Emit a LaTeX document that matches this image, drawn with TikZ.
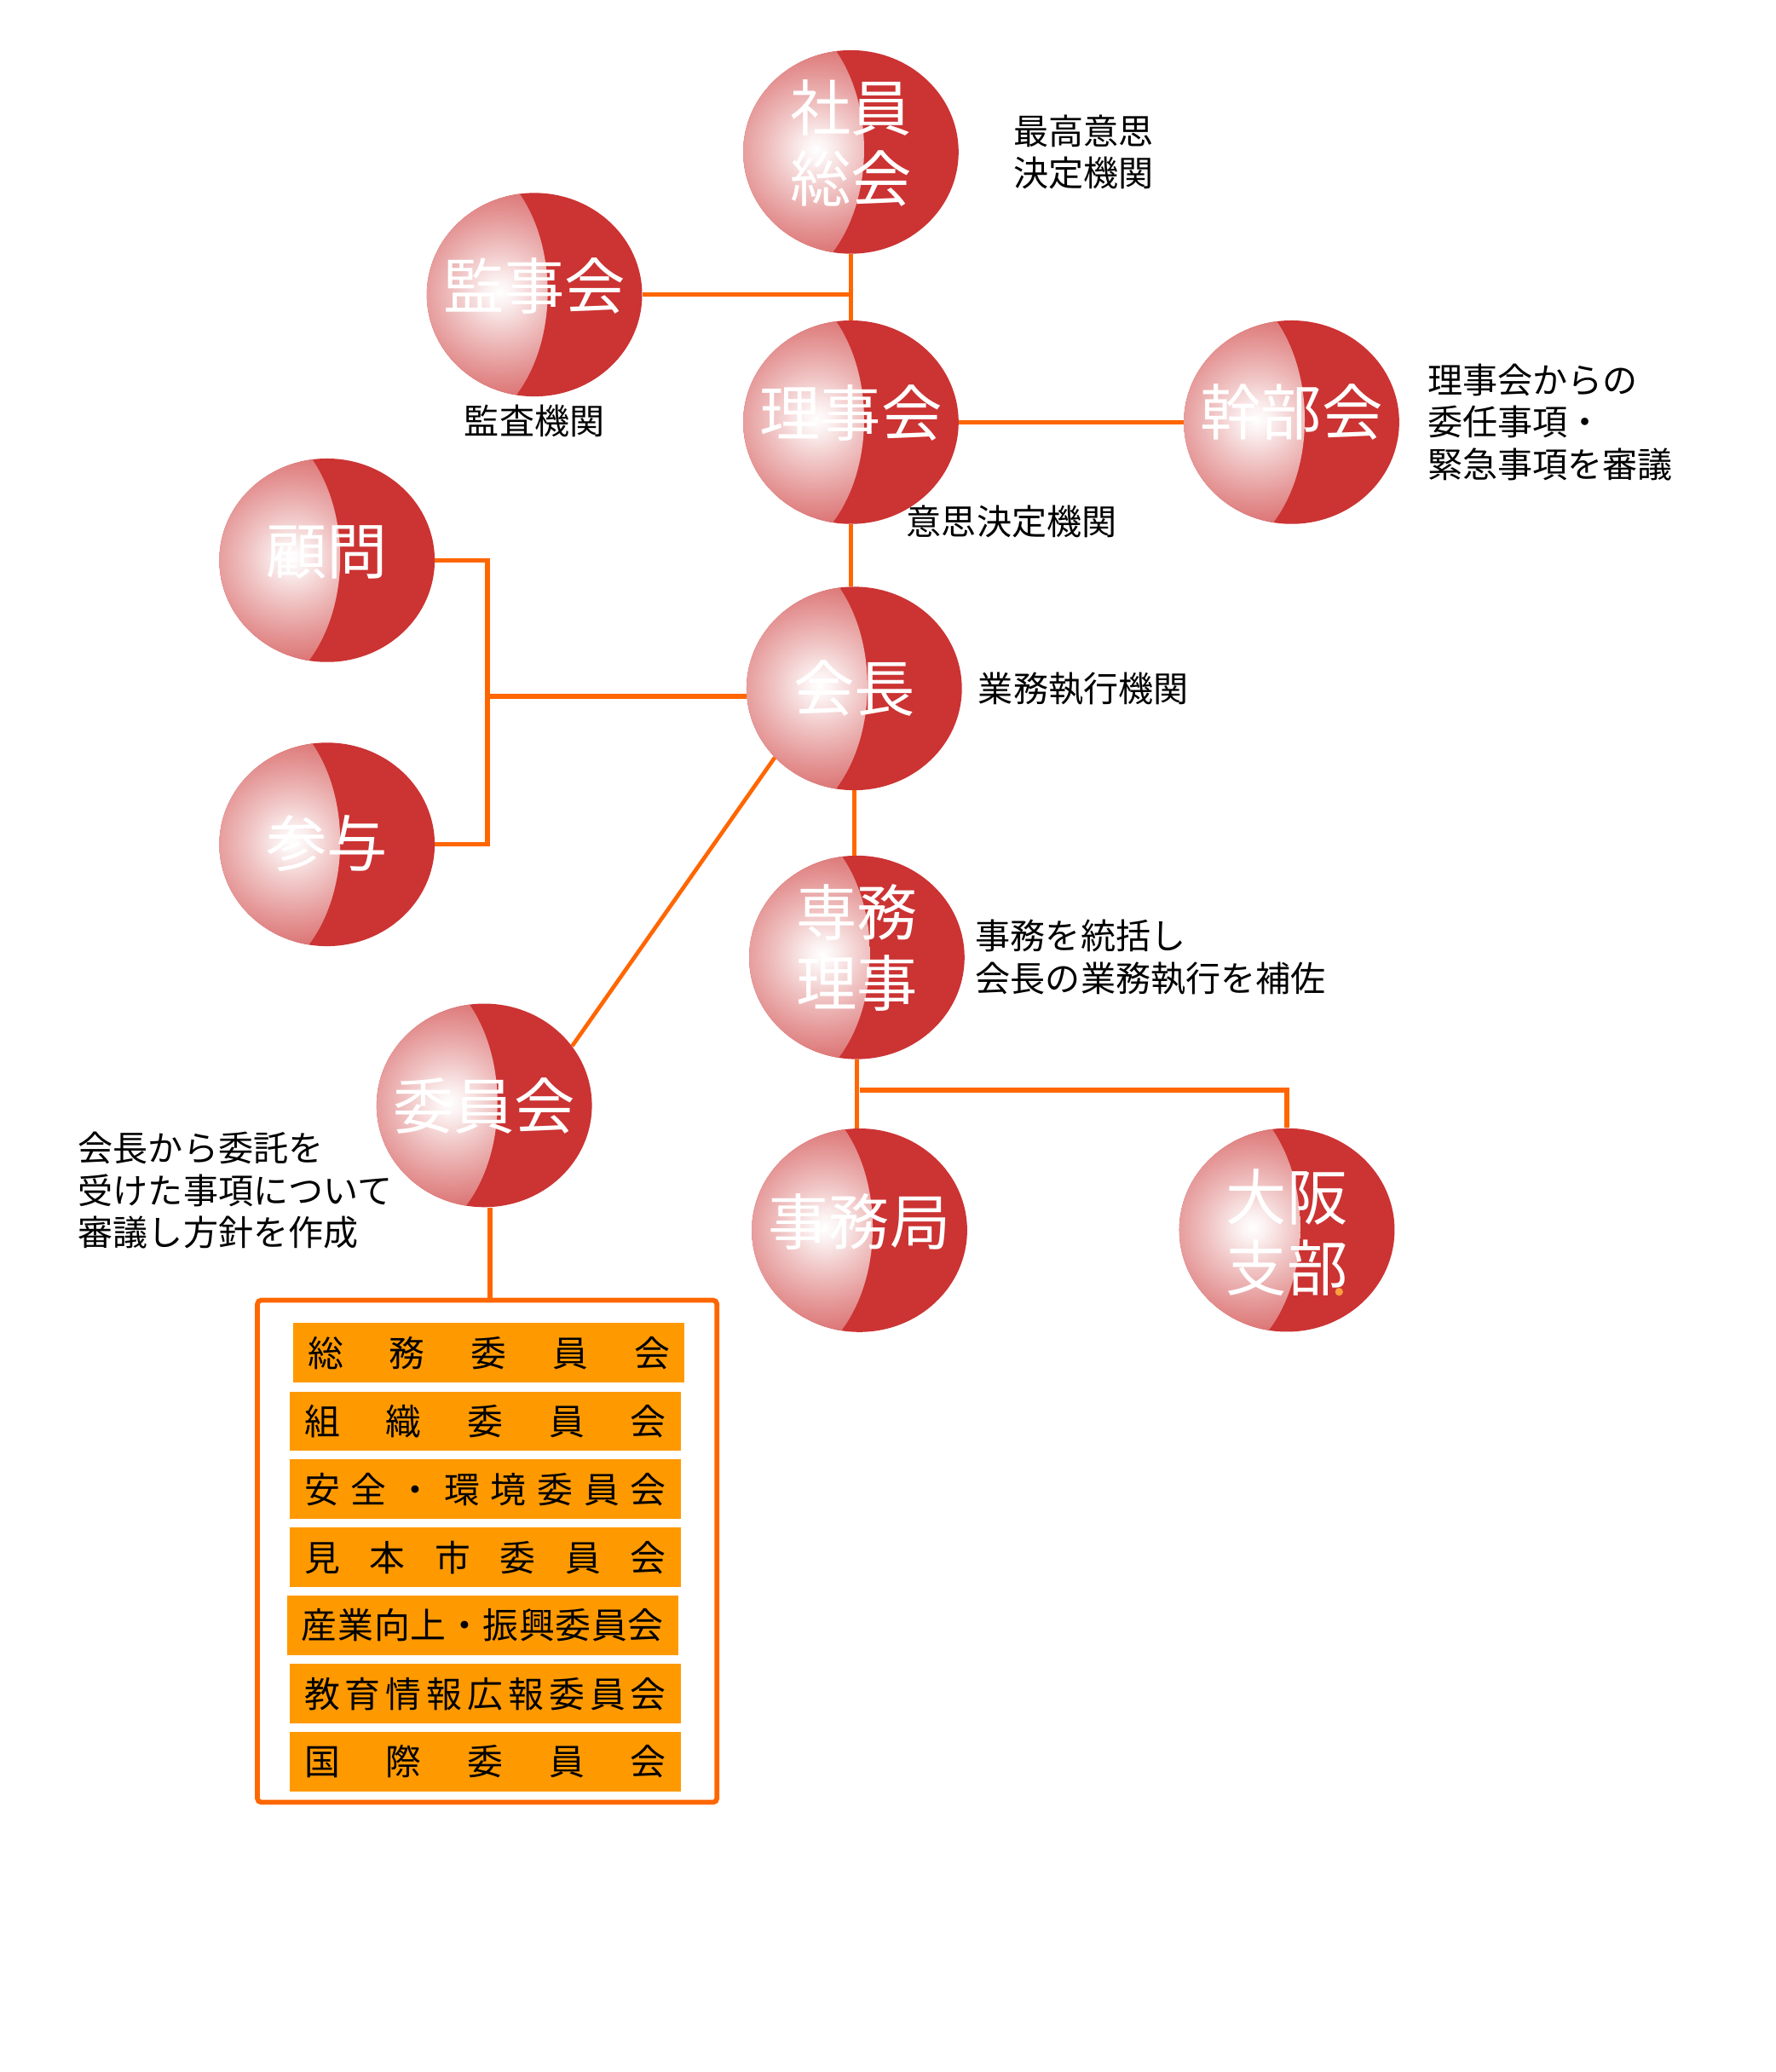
\documentclass[tikz,border=0pt]{standalone}
\usepackage{fontspec}
\setmainfont{Noto Sans CJK JP}
\usepackage{tikz}
\usetikzlibrary{shapes.geometric,positioning,calc}
\definecolor{ballred}{RGB}{204,51,51}
\definecolor{lineorange}{RGB}{255,102,0}
\definecolor{barorange}{RGB}{255,153,0}
\definecolor{dotorange}{RGB}{250,160,60}
\pgfdeclareradialshading{redball}{\pgfpoint{0bp}{0bp}}{color(0bp)=(white); color(2bp)=(ballred!6!white); color(8bp)=(ballred!30!white); color(14bp)=(ballred!52!white); color(20bp)=(ballred!72!white); color(24bp)=(ballred!88!white); color(25bp)=(ballred); color(50bp)=(ballred)}
\tikzstyle{link} = [line width=3.5pt, draw=lineorange]
\newcommand\ballfont{\fontsize{46}{53.5}\selectfont}
\newcommand\notefont{\fontsize{26.5}{32}\selectfont}
\newcommand\barfont{\fontsize{27}{32}\selectfont}
\newcommand\barline[1]{\makebox[274pt]{#1}\hspace{6.5pt}}

\begin{document}
\begin{tikzpicture}[x=1pt, y=-1pt,
	ball/.style 2 args={ellipse, minimum width=163pt, minimum height=154pt, inner sep=0pt, fill=ballred,
		path picture={\shade[shading=redball] ($(path picture bounding box.center)+(-62pt,2pt)$) ellipse (72pt and 105pt);},
		label={[text=white, font=\ballfont, align=center, inner sep=0pt, yshift=#2]center:#1}},
	note/.style={inner sep=0pt, align=left, font=\notefont},
	bar/.style={fill=barorange, minimum width=296pt, minimum height=45pt, inner sep=0pt, font=\barfont}]
	
	\useasboundingbox (0,0) rectangle (1344,1568);
	
	% BODIES
	
	\node[ball={社員\\総会}{6.5pt}] (shain) at (644,115) {};
	\node[ball={監事会}{6.5pt}] (kanji) at (404.5,223) {};
	\node[ball={理事会}{7pt}] (riji) at (644,319.5) {};
	\node[ball={幹部会}{7.5pt}] (kanbu) at (977.5,319.5) {};
	\node[ball={顧問}{6pt}] (komon) at (247.5,424) {};
	\node[ball={会長}{0pt}] (kaicho) at (646.5,521) {};
	\node[ball={参与}{0.5pt}] (sanyo) at (247.5,639) {};
	\node[ball={専務\\理事}{7.5pt}] (senmu) at (648.5,724.5) {};
	\node[ball={委員会}{-0.5pt}] (iinkai) at (366.5,836.5) {};
	\node[ball={事務局}{6.5pt}] (jimukyoku) at (650.5,931) {};
	\node[ball={大阪\\支部}{-2pt}] (osaka) at (974,930.8) {};
	\node[circle, fill=dotorange, inner sep=0pt, minimum size=6pt] (osakadot) at (1013.5,977.6) {};
	
	% NOTES
	
	\node[note, right=41pt of shain] (shainnote) {最高意思\\決定機関};
	\node[note, below=6pt of kanji] (kanjinote) {監査機関};
	\node[note, right=21pt of kanbu] (kanbunote) {理事会からの\\委任事項・\\緊急事項を審議};
	\node[note, anchor=west] (rijinote) at (686,395) {意思決定機関};
	\node[note, right=12pt of kaicho] (kaichonote) {業務執行機関};
	\node[note, right=8pt of senmu] (senmunote) {事務を統括し\\会長の業務執行を補佐};
	\node[note, anchor=west] (iinkainote) at (59,901) {会長から委託を\\受けた事項について\\審議し方針を作成};
	
	% COMMITTEES
	
	\node[draw=lineorange, line width=3.7pt, rounded corners=3pt, minimum width=347.8pt, minimum height=380pt] (iinbox) at (368.7,1173.9) {};
	\node[bar] (somu) at (369.9,1023.7) {\barline{総\hfill 務\hfill 委\hfill 員\hfill 会}};
	\node[bar] (soshiki) at (367.3,1075.5) {\barline{組\hfill 織\hfill 委\hfill 員\hfill 会}};
	\node[bar] (anzen) at (367.3,1127) {\barline{安\hfill 全\hfill ・\hfill 環\hfill 境\hfill 委\hfill 員\hfill 会}};
	\node[bar] (mihon) at (367.3,1178.5) {\barline{見\hfill 本\hfill 市\hfill 委\hfill 員\hfill 会}};
	\node[bar] (sangyo) at (365.3,1230) {\barline{産\hfill 業\hfill 向\hfill 上\hfill ・\hfill 振\hfill 興\hfill 委\hfill 員\hfill 会}};
	\node[bar] (kyoiku) at (367.3,1281.8) {\barline{教\hfill 育\hfill 情\hfill 報\hfill 広\hfill 報\hfill 委\hfill 員\hfill 会}};
	\node[bar] (kokusai) at (367.3,1333.3) {\barline{国\hfill 際\hfill 委\hfill 員\hfill 会}};
	
	% LINKS
	
	\draw[link] (shain.south) -- (riji.north);
	\draw[link] (kanji.east) -- (kanji.east -| shain.south);
	\draw[link] (riji.east) -- (kanbu.west);
	\draw[link] (riji.south) -- (riji.south |- kaicho.north);
	\coordinate (bus) at (369,527);
	\draw[link] (komon.east) -- (komon.east -| bus) -- (sanyo.east -| bus) -- (sanyo.east);
	\draw[link] (bus) -- (bus -| kaicho.west);
	\draw[link, line width=3pt] (kaicho.221) -- (iinkai.34);
	\draw[link] (kaicho.south) -- (kaicho.south |- senmu.north);
	\draw[link] (senmu.south) -- (senmu.south |- jimukyoku.north);
	\coordinate (fork) at (651,825);
	\draw[link] (fork) -| (osaka.north);
	\draw[link] ([xshift=4.5pt]iinkai.south) -- ([xshift=4.5pt]iinkai.south |- iinbox.north);
	
\end{tikzpicture}
\end{document}
